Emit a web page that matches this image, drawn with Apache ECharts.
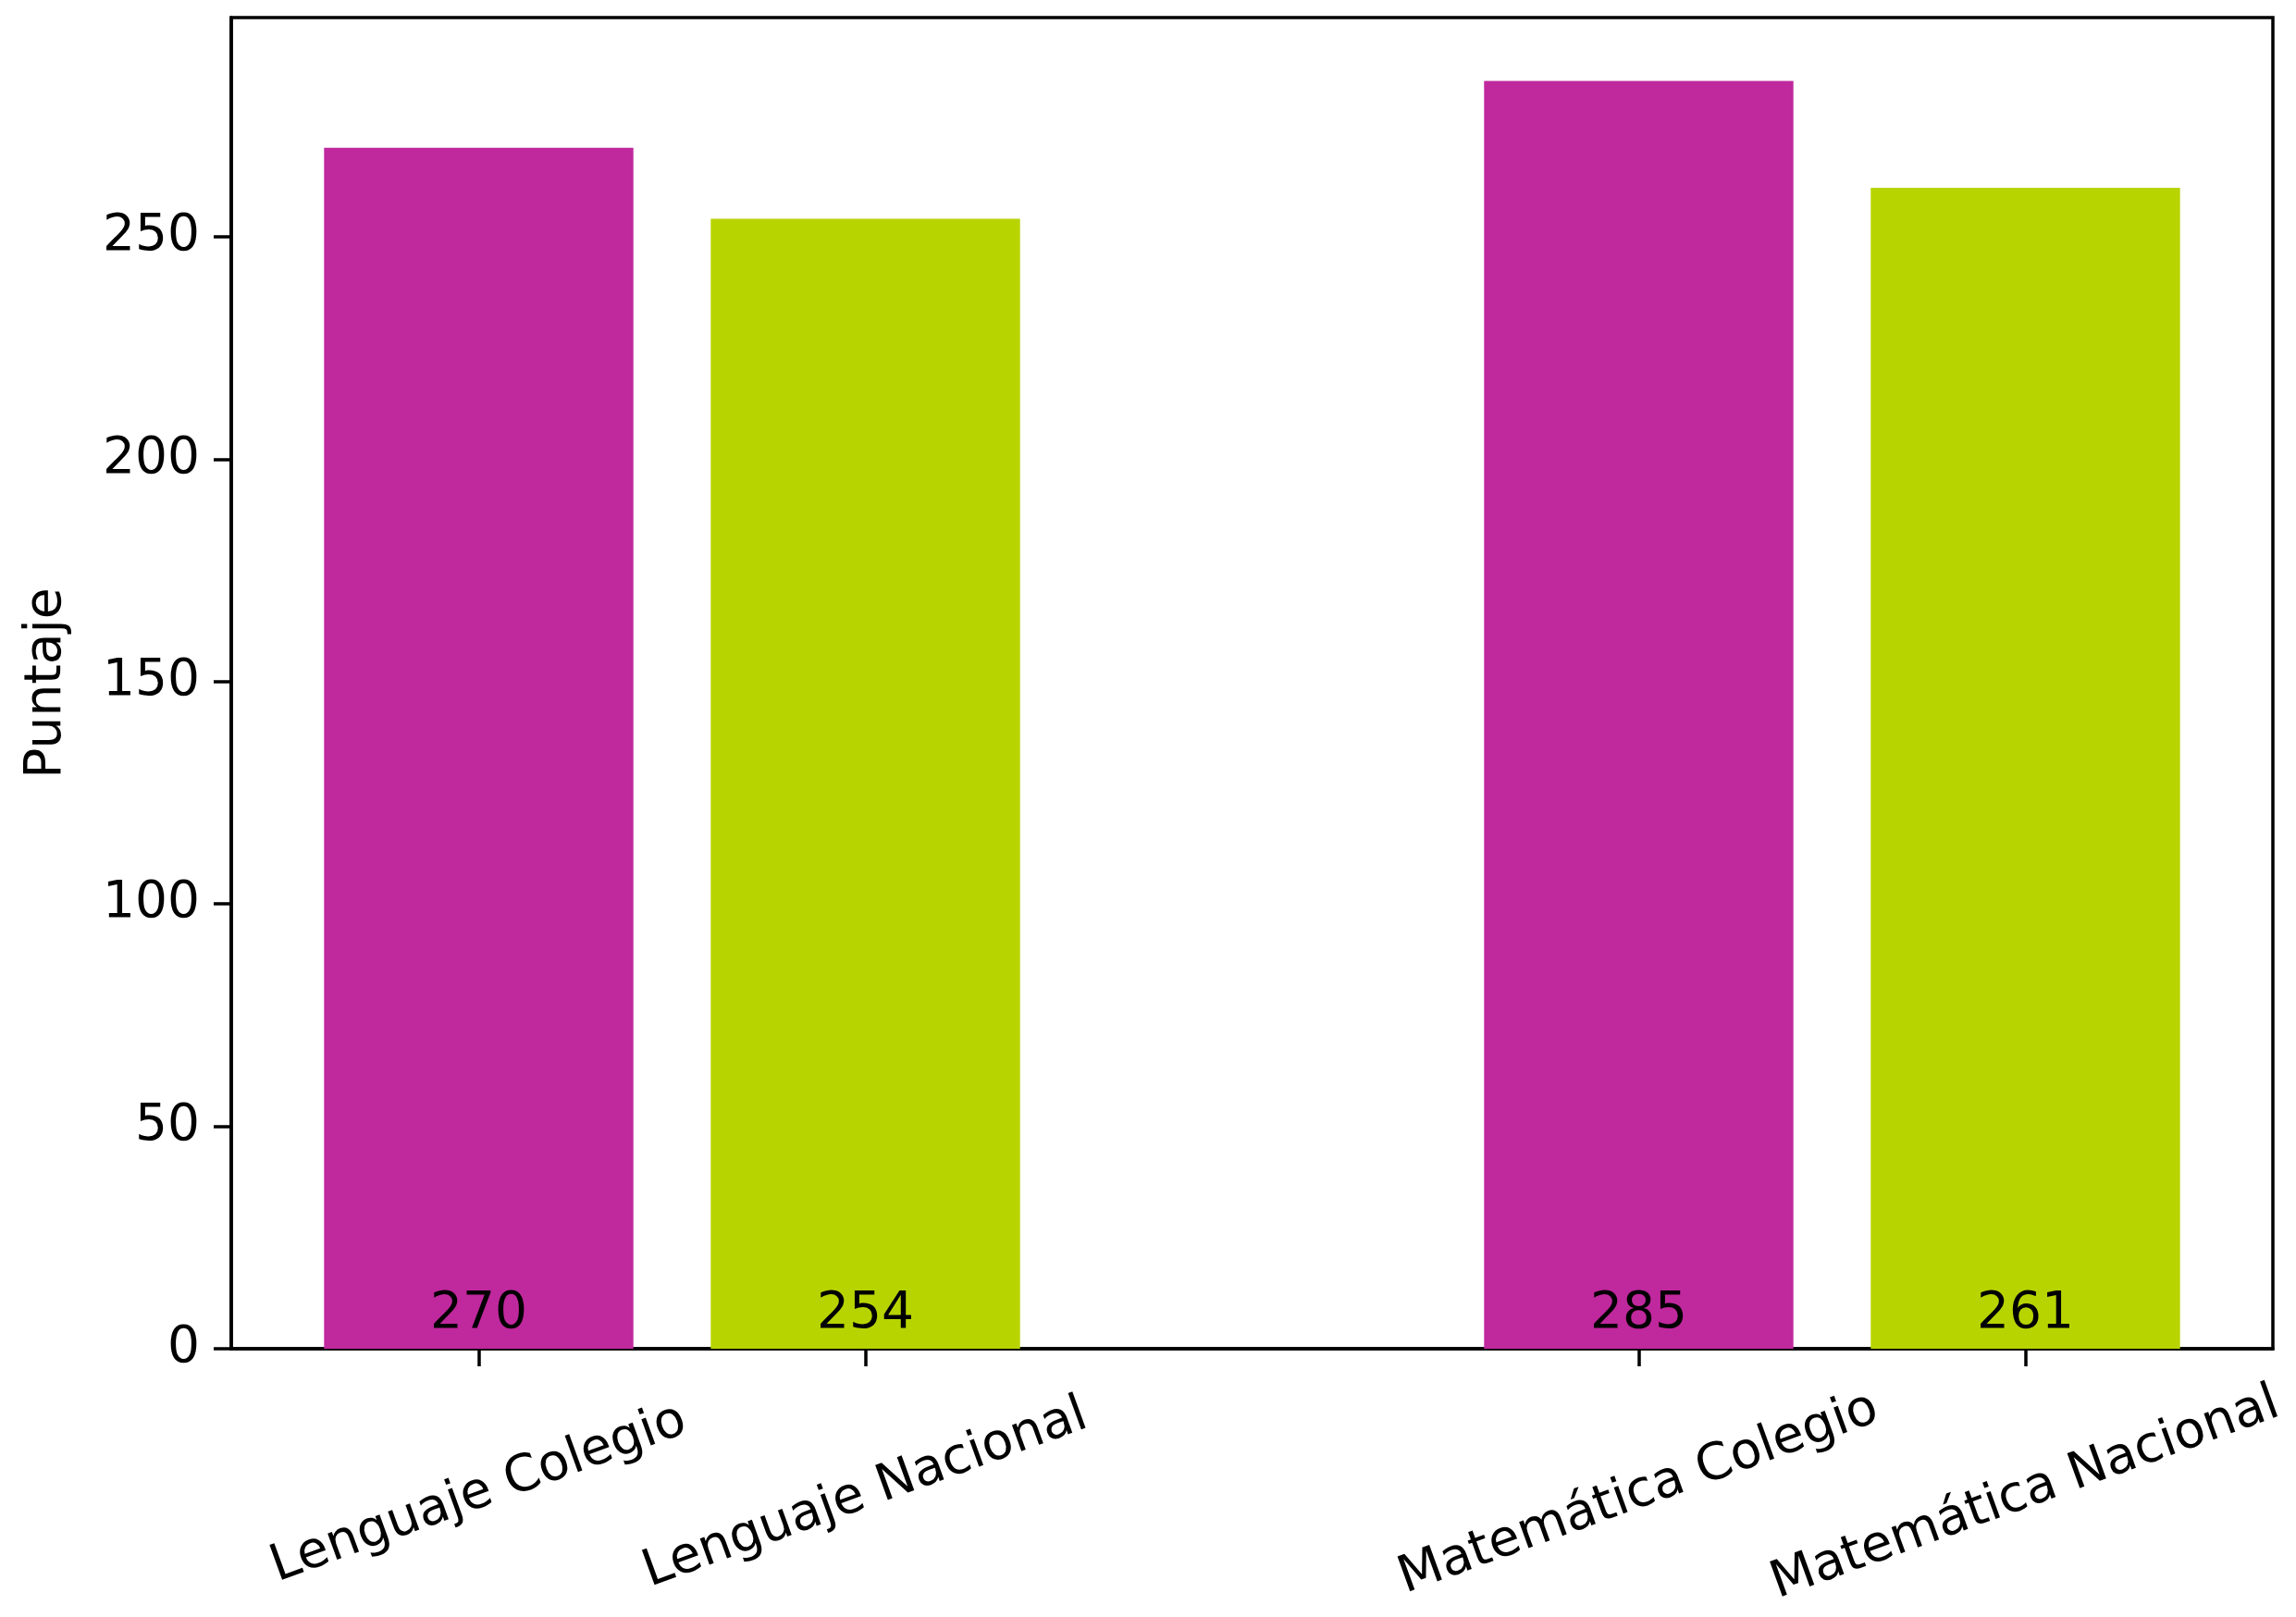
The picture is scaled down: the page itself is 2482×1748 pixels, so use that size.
<!DOCTYPE html>
<html>
<head>
<meta charset="utf-8">
<script src="https://cdn.jsdelivr.net/npm/echarts@6/dist/echarts.min.js"></script>
<style>
html,body{margin:0;padding:0;background:#fff;}
#chart{width:2482px;height:1748px;}
</style>
</head>
<body>
<div id="chart"></div>
<script>
// Data
const categories = ['Lenguaje Colegio', 'Lenguaje Nacional', 'Matemática Colegio', 'Matemática Nacional'];
const positions = [0, 1, 3, 4];
const values = [270, 254, 285, 261];
const yTicks = [0, 50, 100, 150, 200, 250];

const colors = ['#C0289D', '#B8D400'];
const FONT = 'DejaVu Sans';
const gridLeft = 250, gridRight = 25, gridTop = 19, gridBottom = 290;
const xMin = -0.64, xMax = 4.64;
const plotW = 2482 - gridLeft - gridRight;
const barW = 0.8 * plotW / (xMax - xMin);

const chart = echarts.init(document.getElementById('chart'), null, {renderer: 'canvas'});
chart.setOption({
  animation: false,
  backgroundColor: '#fff',
  grid: {left: gridLeft, right: gridRight, top: gridTop, bottom: gridBottom,
         show: true, borderColor: '#000', borderWidth: 3.5, backgroundColor: 'transparent'},
  xAxis: {
    type: 'value', min: xMin, max: xMax,
    axisLine: {show: true, onZero: false, lineStyle: {color: '#000', width: 3.5}},
    axisTick: {show: true, customValues: positions, length: 19, lineStyle: {color: '#000', width: 3.5}},
    axisLabel: {
      customValues: positions, rotate: 20, align: 'center', verticalAlign: 'middle',
      margin: 157, fontFamily: FONT, fontSize: 55, color: '#000',
      formatter: v => categories[positions.indexOf(v)]
    },
    splitLine: {show: false}
  },
  yAxis: {
    type: 'value', min: 0, max: 299.25, interval: 50,
    name: 'Puntaje', nameLocation: 'middle', nameRotate: 90, nameGap: 172,
    nameTextStyle: {fontFamily: FONT, fontSize: 55, color: '#000'},
    axisLine: {show: true, onZero: false, lineStyle: {color: '#000', width: 3.5}},
    axisTick: {show: true, customValues: yTicks, length: 19, lineStyle: {color: '#000', width: 3.5}},
    axisLabel: {customValues: yTicks, margin: 34, fontFamily: FONT, fontSize: 55, color: '#000',
      formatter: v => String(v)},
    splitLine: {show: false}
  },
  series: [{
    type: 'bar',
    barWidth: barW,
    data: positions.map((p, i) => ({value: [p, values[i]], itemStyle: {color: colors[i % 2]}})),
    label: {
      show: true, position: 'insideBottom', distance: 10,
      fontFamily: FONT, fontSize: 55, color: '#000',
      formatter: p => String(p.value[1])
    }
  }]
});
</script>
</body>
</html>
